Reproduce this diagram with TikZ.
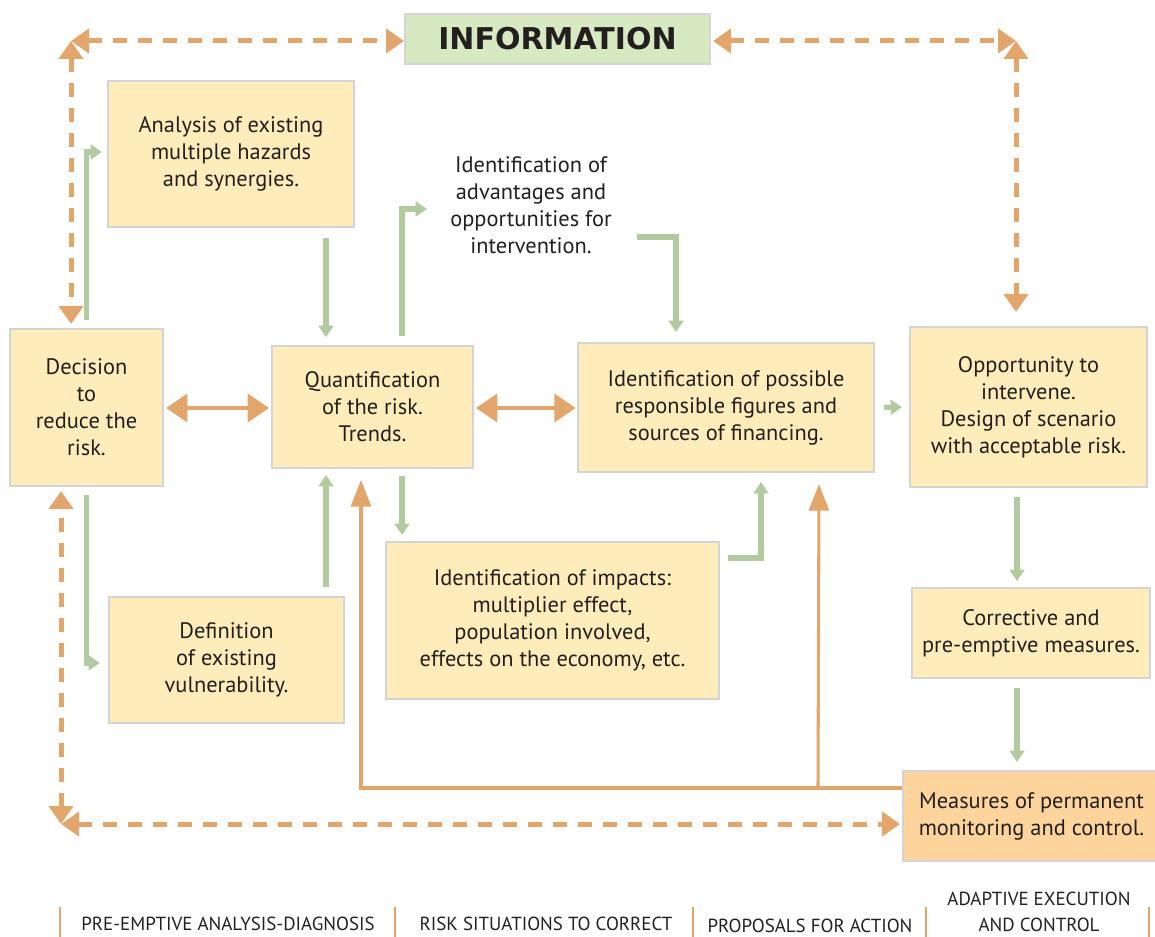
\documentclass[tikz,border=0pt]{standalone}
\usepackage{fontspec}
\setmainfont{PT Sans}
\newfontfamily\titlefont{DejaVu Sans}
\usetikzlibrary{arrows.meta,calc}
\definecolor{boxfill}{HTML}{FEEDBB}
\definecolor{boxline}{HTML}{D4D4D4}
\definecolor{infofill}{HTML}{D6E9C1}
\definecolor{measfill}{HTML}{FDD49C}
\definecolor{orng}{HTML}{E2A66C}
\definecolor{grn}{HTML}{B2CAA0}
\definecolor{ink}{HTML}{231F20}
\begin{document}
\begin{tikzpicture}[x=0.75pt,y=-0.75pt,
  sz/.style 2 args={minimum width=#1*0.75pt, minimum height=#2*0.75pt},
  box/.style={draw=boxline, line width=1.5pt, fill=boxfill, align=center,
    text=ink, inner sep=0pt, font=\fontsize{16.8}{20.25}\selectfont},
  plain/.style={align=center, text=ink, inner sep=0pt,
    font=\fontsize{16.8}{20.25}\selectfont},
  gline/.style={draw=grn, line width=4pt,
    -{Triangle[length=8.5pt,width=11pt]}},
  oline/.style={draw=orng, line width=2.3pt,
    -{Triangle[length=20pt,width=15pt]}},
  obig/.style={draw=orng, line width=2.8pt,
    {Triangle[length=16pt,width=21pt]}-{Triangle[length=16pt,width=21pt]}},
  dline/.style={draw=orng, line width=3.75pt, dash pattern=on 10.5pt off 8.25pt,
    {Triangle[length=13.5pt,width=18pt]}-{Triangle[length=13.5pt,width=18pt]}},
  phase/.style={text=ink, inner sep=0pt, align=center,
    font=\fontsize{14.2}{19.2}\selectfont},
  bar/.style={draw=orng, line width=1.6pt}]
\useasboundingbox (0,0) rectangle (1155,937);

% boxes
\node[box, sz={305}{50}, fill=infofill, font=\fontsize{22.5}{27}\selectfont\titlefont\bfseries] (info) at (557.5,39) {INFORMATION};
\node[box, sz={246}{146}] (ana) at (231,154) {Analysis of existing\\multiple hazards\\and synergies.};
\node[box, sz={153}{157}] (dec) at (86.5,407.5) {Decision\\to\\reduce the\\risk.};
\node[box, sz={201}{122}] (quant) at (372.5,407) {Quantification\\of the risk.\\Trends.};
\node[box, sz={296}{129}] (ident) at (726,407.5) {Identification of possible\\responsible figures and\\sources of financing.};
\node[box, sz={237}{160}] (opp) at (1028.5,407) {Opportunity to\\intervene.\\Design of scenario\\with acceptable risk.};
\node[box, sz={333}{157}] (imp) at (552.5,620.5) {Identification of impacts:\\multiplier effect,\\population involved,\\effects on the economy, etc.};
\node[box, sz={235}{126}] (defn) at (226.5,660) {Definition\\of existing\\vulnerability.};
\node[box, sz={238}{90}] (corr) at (1031,633) {Corrective and\\pre-emptive measures.};
\node[box, sz={257}{90}, fill=measfill] (meas) at (1031.5,816) {Measures of permanent\\monitoring and control.};
\node[plain] (adv) at (531,205) {Identification of\\advantages and\\opportunities for\\intervention.};

% information loop corners
\coordinate (tl) at (71,41);
\coordinate (tr) at (1016,41);
\coordinate (bl) at (61,824);

% dashed information links
\draw[dline] (tl) -- (tl -| info.west);
\draw[dline, shorten >=3pt] (tl) -- (tl |- dec.north);
\draw[dline, shorten <=1.5pt] (tr -| info.east) -- (tr);
\draw[dline, shorten >=10.5pt] (tr) -- (tr |- opp.north);
\draw[dline, shorten >=3pt] (bl) -- (bl |- dec.south);
\draw[dline, shorten >=1.5pt] (bl) -- (bl -| meas.west);

% solid two-way links
\draw[obig, shorten <=1.5pt, shorten >=1.5pt] (dec.east |- 0,408) -- (quant.west |- 0,408);
\draw[obig, shorten <=1.5pt, shorten >=1pt] (quant.east |- 0,408) -- (ident.west |- 0,408);

% feedback from monitoring
\draw[oline] ($(meas.north west)+(0,18)$) -| ($(quant.south)+(-11.5,11)$);
\draw[oline] ($(meas.north west)+(-84,18)$) -- ($(ident.south)+(93,11)$);

% process flow
\draw[gline] ($(dec.north)+(0,-8)$) |- ($(ana.west)+(-5,-2)$);
\draw[gline] ($(ana.south)+(95,10)$) -- ($(quant.north)+(-46.5,-8)$);
\draw[gline] ($(quant.north)+(29.5,-9)$) |- ($(adv.center)+(-104,4)$);
\draw[gline] ($(adv.center)+(106,32)$) -| ($(ident.north)+(-50,-10)$);
\draw[gline] ($(defn.north)+(99.5,-9)$) -- ($(quant.south)+(-46.5,6)$);
\draw[gline] ($(dec.south)+(0,8)$) |- ($(defn.west)+(-8,3)$);
\draw[gline] ($(quant.south)+(29.5,7)$) -- ($(imp.north)+(-150.5,-6)$);
\draw[gline] ($(imp.north east)+(8,17)$) -| ($(ident.south)+(35,9)$);
\draw[gline] ($(ident.east)+(9,0)$) -- ($(opp.west)+(-7,0)$);
\draw[gline] ($(opp.south)+(-11.5,9)$) -- ($(corr.north)+(-14,-6)$);
\draw[gline] ($(corr.south)+(-14,9)$) -- ($(meas.north)+(-14.5,-8)$);

% phase labels along the bottom
\foreach \bx in {60,395,693,926,1149} \draw[bar] (\bx,907) -- (\bx,940);
\node[phase] (p1) at (228,924) {PRE-EMPTIVE ANALYSIS-DIAGNOSIS};
\node[phase] (p2) at (546,924) {RISK SITUATIONS TO CORRECT};
\node[phase] (p3) at (810,926) {PROPOSALS FOR ACTION};
\node[phase] (p4) at (1039,912) {ADAPTIVE EXECUTION\\AND CONTROL};
\end{tikzpicture}
\end{document}
